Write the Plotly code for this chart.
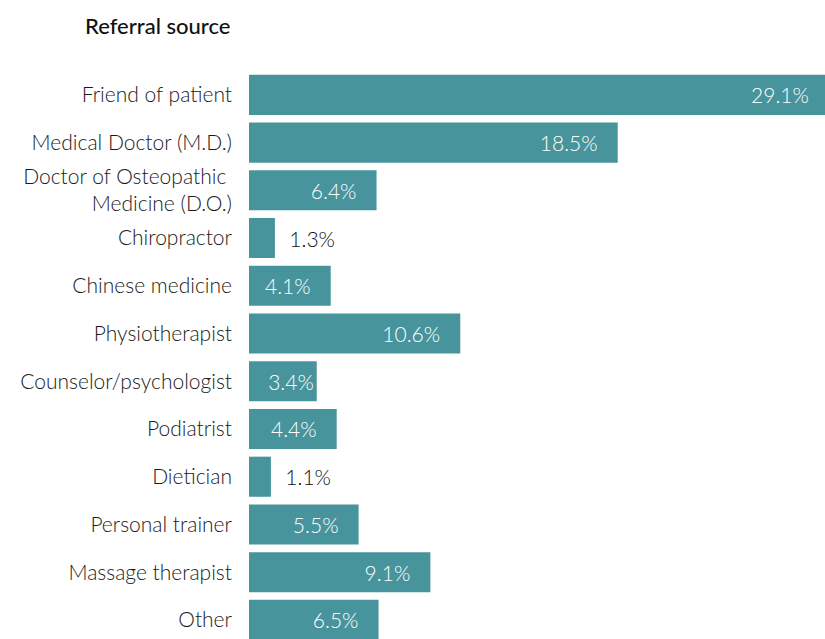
import plotly.graph_objects as go

# Referral source shares (%)
categories = [
    "Friend of patient",
    "Medical Doctor (M.D.)",
    "Doctor of Osteopathic\u00a0<br>Medicine (D.O.)",
    "Chiropractor",
    "Chinese medicine",
    "Physiotherapist",
    "Counselor/psychologist",
    "Podiatrist",
    "Dietician",
    "Personal trainer",
    "Massage therapist",
    "Other",
]
shares = [29.1, 18.5, 6.4, 1.3, 4.1, 10.6, 3.4, 4.4, 1.1, 5.5, 9.1, 6.5]

FONT = "Lato, 'Open Sans', sans-serif"
TEAL = "#48949c"


def label(v):
    if v < 2:  # too short for the text, put it outside
        return "\u00a0\u00a0" + f"{v:.1f}%"
    if v < 4:  # tight fit, no right padding
        return f"{v:.1f}%"
    return f"{v:.1f}%" + "\u00a0" * 3


positions = ["outside" if v < 2 else "inside" for v in shares]
labels = [label(v) for v in shares]

fig = go.Figure(go.Bar(
    x=shares,
    y=categories,
    orientation="h",
    marker=dict(color=TEAL, line=dict(width=0)),
    text=labels,
    textposition=positions,
    insidetextanchor="end",
    textangle=0,
    constraintext="none",
    insidetextfont=dict(color="white", size=21, family=FONT, weight=300),
    outsidetextfont=dict(color="#111111", size=21, family=FONT, weight=300),
    cliponaxis=True,
    hoverinfo="skip",
))

fig.update_layout(
    width=825,
    height=639,
    margin=dict(l=249, r=0, t=71, b=0),
    plot_bgcolor="white",
    paper_bgcolor="white",
    bargap=0.16,
    showlegend=False,
    font=dict(family=FONT, size=21, color="#1a1a1a"),
    xaxis=dict(range=[0, 28.9], visible=False, fixedrange=True),
    yaxis=dict(
        type="category",
        categoryorder="array",
        categoryarray=categories,
        range=[11.4, -0.5],
        showgrid=False,
        zeroline=False,
        showline=False,
        ticks="",
        ticklabelstandoff=16,
        tickfont=dict(size=21, family=FONT, color="#1a1a1a", weight=300),
        fixedrange=True,
    ),
)

fig.add_annotation(
    text="Referral source",
    xref="paper", yref="paper",
    x=-16 / 576, y=1 + (71 - 25) / 568,
    xanchor="right", yanchor="middle",
    showarrow=False,
    font=dict(size=22, family=FONT, color="#111111", weight=500),
)

# drop the default body margin so the figure fills the window exactly
fig.write_html(
    "out.html",
    config={"displayModeBar": False},
    post_script="document.body.style.margin='0';document.body.style.overflow='hidden';",
)
